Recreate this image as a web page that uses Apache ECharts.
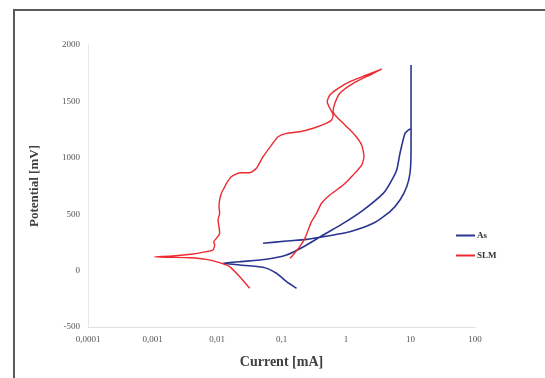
<!DOCTYPE html>
<html>
<head>
<meta charset="utf-8">
<script src="https://cdn.jsdelivr.net/npm/echarts@6/dist/echarts.min.js"></script>
<style>
html,body{margin:0;padding:0;background:#fff;}
#chart{width:545px;height:378px;}
</style>
</head>
<body>
<div id="chart"></div>
<script>
// SLM series: current [mA] and potential [mV]
var slmCurrent = [0.0322,0.0225,0.0157,0.0110,0.00684,0.00377,0.00207,0.00108,0.00207,0.00424,0.00684,0.00867,0.0092,0.0089,0.0098,0.0110,0.01074,0.01037,0.0110,0.01074,0.0110,0.0117,0.0132,0.0140,0.0167,0.0225,0.0322,0.0409,0.0518,0.0700,0.0885,0.1196,0.192,0.310,0.470,0.597,0.632,0.562,0.511,0.562,0.757,1.15,2.09,3.57,2.35,1.29,0.804,0.672,0.632,0.714,0.961,1.37,1.75,1.90,1.75,1.29,0.905,0.562,0.418,0.349,0.292,0.259,0.230,0.192,0.151,0.135];
var slmPotential = [-157,-54,35,70,100,114,118,121,129,147,168,183,227,256,286,331,389,449,508,566,626,685,744,774,832,868,868,907,1010,1113,1187,1217,1231,1262,1300,1335,1379,1439,1497,1557,1616,1675,1734,1787,1734,1660,1572,1483,1409,1364,1291,1202,1113,1010,936,848,759,670,597,508,434,360,286,212,138,109];
// As series
var asCurrent = [0.171,0.1196,0.0836,0.0518,0.0225,0.0124,0.0225,0.0585,0.1196,0.216,0.443,0.905,1.85,3.78,4.81,6.11,6.87,8.22,9.25,10.2,10.2,10.2,10.2,9.82,8.73,6.87,4.81,2.64,1.15,0.443,0.244,0.1196,0.0518];
var asPotential = [-157,-98,-24,29,50,65,79,100,138,209,316,419,537,685,774,892,1040,1217,1246,1262,1823,1262,1069,863,744,626,522,419,345,300,277,262,242];
var xTickLabels = {'0.0001':'0,0001','0.001':'0,001','0.01':'0,01','0.1':'0,1','1':'1','10':'10','100':'100'};
var yTicks = [-500,0,500,1000,1500,2000];

function pairs(xs, ys){ var out=[]; for(var i=0;i<xs.length;i++) out.push([xs[i], ys[i]]); return out; }

var chart = echarts.init(document.getElementById('chart'));
var serif = '"Liberation Serif", "DejaVu Serif", serif';
chart.setOption({
  animation:false,
  backgroundColor:'#fff',
  graphic:[{type:'rect', shape:{x:14,y:10,width:600,height:400}, style:{fill:'none', stroke:'#5a5a5a', lineWidth:2}, silent:true}],
  grid:{left:88, right:70, top:45, bottom:51},
  legend:{
    orient:'vertical', left:451, top:226, itemWidth:19, itemHeight:2, itemGap:11,
    icon:'rect',
    textStyle:{fontFamily:serif, fontSize:9, fontWeight:'bold', color:'#333', padding:[0,0,0,-3]},
    data:['As','SLM']
  },
  xAxis:{
    type:'log', logBase:10, min:0.0001, max:100,
    name:'Current [mA]', nameLocation:'middle', nameGap:28,
    nameTextStyle:{fontFamily:serif, fontSize:14, fontWeight:'bold', color:'#404040'},
    axisLine:{onZero:false, lineStyle:{color:'#e0e0e0'}},
    axisTick:{show:false},
    splitLine:{show:false},
    axisLabel:{fontFamily:serif, fontSize:9, color:'#555', margin:8,
      formatter:function(v){ var k=String(+v.toPrecision(6)); return xTickLabels[k]!==undefined?xTickLabels[k]:k; }}
  },
  yAxis:{
    type:'value', min:yTicks[0], max:yTicks[yTicks.length-1], interval:500,
    name:'Potential [mV]', nameLocation:'middle', nameGap:47, nameRotate:90,
    nameTextStyle:{fontFamily:serif, fontSize:13, fontWeight:'bold', color:'#404040'},
    axisLine:{show:true, onZero:false, lineStyle:{color:'#e6e6e6'}},
    axisTick:{show:false},
    splitLine:{show:false},
    axisLabel:{fontFamily:serif, fontSize:9, color:'#555', margin:8,
      formatter:function(v){ return String(v); }}
  },
  series:[
    {name:'As', type:'line', data:pairs(asCurrent, asPotential), showSymbol:false, smooth:0.2,
     lineStyle:{color:'#2a3590', width:1.6}, itemStyle:{color:'#2a3590'}},
    {name:'SLM', type:'line', data:pairs(slmCurrent, slmPotential), showSymbol:false, smooth:0.2,
     lineStyle:{color:'#ec2a30', width:1.4}, itemStyle:{color:'#ec2a30'}}
  ]
});
</script>
</body>
</html>
